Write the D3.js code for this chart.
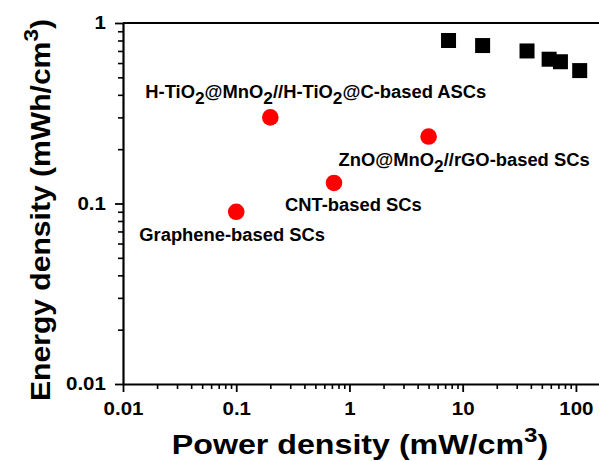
<!DOCTYPE html>
<html>
<head>
<script src="https://cdn.jsdelivr.net/npm/d3@7"></script>
<style>
	body { margin: 0; background: #fff; }
	text { font-family: "Liberation Sans", Arial, sans-serif; font-weight: bold; }
	.axis path, .axis line { stroke: #000; }
</style>
</head>
<body>
<script>
var width = 599, height = 461;

// red circles: other devices from literature
var litNames = ["Graphene-based SCs", "H-TiO2@MnO2//H-TiO2@C-based ASCs", "CNT-based SCs", "ZnO@MnO2//rGO-based SCs"];
var litPower = [0.1, 0.2, 0.73, 5];
var litEnergy = [0.09, 0.3, 0.13, 0.235];

// black squares: this work
var ourPower = [7.5, 15, 37, 58, 73, 108];
var ourEnergy = [0.8, 0.75, 0.7, 0.63, 0.61, 0.545];

var xMajor = [0.01, 0.1, 1, 10, 100];
var yMajor = [0.01, 0.1, 1];

var x = d3.scaleLog().domain([0.01, 200]).range([123, 610]);
var y = d3.scaleLog().domain([0.01, 1]).range([384, 23]);

var svg = d3.select("body").append("svg")
	.attr("width", width)
	.attr("height", height);

var xMinor = x.ticks().filter(function(d) { return xMajor.indexOf(d) < 0; });
var yMinor = y.ticks().filter(function(d) { return yMajor.indexOf(d) < 0; });

// top frame line
svg.append("line")
	.attr("x1", 123).attr("x2", 610)
	.attr("y1", y(1)).attr("y2", y(1))
	.attr("stroke", "#000").attr("stroke-width", 2.2);

svg.append("g").attr("class", "axis")
	.attr("transform", "translate(0," + y(0.01) + ")")
	.call(d3.axisBottom(x).tickValues(xMinor).tickSize(5).tickFormat(""))
	.call(function(g) { g.select(".domain").remove(); g.selectAll("line").attr("stroke-width", 1.6); });

svg.append("g").attr("class", "axis")
	.attr("transform", "translate(0," + y(0.01) + ")")
	.call(d3.axisBottom(x).tickValues(xMajor).tickSize(8).tickSizeOuter(0).tickPadding(10)
		.tickFormat(function(d) { return d3.format("~g")(d); }))
	.call(function(g) {
		g.select(".domain").attr("stroke-width", 2.2);
		g.selectAll("line").attr("stroke-width", 1.8);
		g.selectAll("text").attr("font-size", 18).attr("fill", "#000").attr("transform", "scale(1.14,1)");
	});

svg.append("g").attr("class", "axis")
	.attr("transform", "translate(" + x(0.01) + ",0)")
	.call(d3.axisLeft(y).tickValues(yMinor).tickSize(5).tickFormat(""))
	.call(function(g) { g.select(".domain").remove(); g.selectAll("line").attr("stroke-width", 1.6); });

svg.append("g").attr("class", "axis")
	.attr("transform", "translate(" + x(0.01) + ",0)")
	.call(d3.axisLeft(y).tickValues(yMajor).tickSize(8).tickSizeOuter(0).tickPadding(7)
		.tickFormat(function(d) { return d3.format("~g")(d); }))
	.call(function(g) {
		g.select(".domain").attr("stroke-width", 2.2);
		g.selectAll("line").attr("stroke-width", 1.8);
		g.selectAll("text").attr("font-size", 18).attr("fill", "#000").attr("transform", "scale(1.14,1)");
	});

// squares
svg.append("g").selectAll("rect")
	.data(ourPower)
  .enter().append("rect")
	.attr("x", function(d) { return x(d) - 7.5; })
	.attr("y", function(d, i) { return y(ourEnergy[i]) - 7.5; })
	.attr("width", 15)
	.attr("height", 15)
	.attr("fill", "#000");

// circles
svg.append("g").selectAll("circle")
	.data(litPower)
  .enter().append("circle")
	.attr("cx", function(d) { return x(d); })
	.attr("cy", function(d, i) { return y(litEnergy[i]); })
	.attr("r", 8.3)
	.attr("fill", "#ff0000");

// labels (offsets from their point)
var labelOffsets = [[-97, 29], [-125, -19], [-49, 28], [-90, 29]];

function addLabel(name, px, py) {
	var t = svg.append("text")
		.attr("transform", "translate(" + px + "," + py + ") scale(1.05,1)")
		.attr("font-size", 17.5).attr("fill", "#000");
	var parts = name.split("2");
	parts.forEach(function(p, i) {
		var s = t.append("tspan").text(p);
		if (i > 0) s.attr("dy", -6);
		if (i < parts.length - 1) {
			t.append("tspan").attr("font-size", 16.5).attr("dy", 6).text("2");
		}
	});
}

litNames.forEach(function(n, i) {
	addLabel(n, x(litPower[i]) + labelOffsets[i][0], y(litEnergy[i]) + labelOffsets[i][1]);
});

// axis titles
var xt = svg.append("text")
	.attr("transform", "translate(360,454) scale(1.15,1)")
	.attr("text-anchor", "middle")
	.attr("font-size", 28);
xt.append("tspan").text("Power density (mW/cm");
xt.append("tspan").attr("font-size", 21).attr("dy", -12).text("3");
xt.append("tspan").attr("dy", 12).text(")");

var yt = svg.append("text")
	.attr("transform", "translate(50,210) rotate(-90) scale(1.075,1)")
	.attr("text-anchor", "middle")
	.attr("font-size", 28);
yt.append("tspan").text("Energy density (mWh/cm");
yt.append("tspan").attr("font-size", 21).attr("dy", -12).text("3");
yt.append("tspan").attr("dy", 12).text(")");
</script>
</body>
</html>
